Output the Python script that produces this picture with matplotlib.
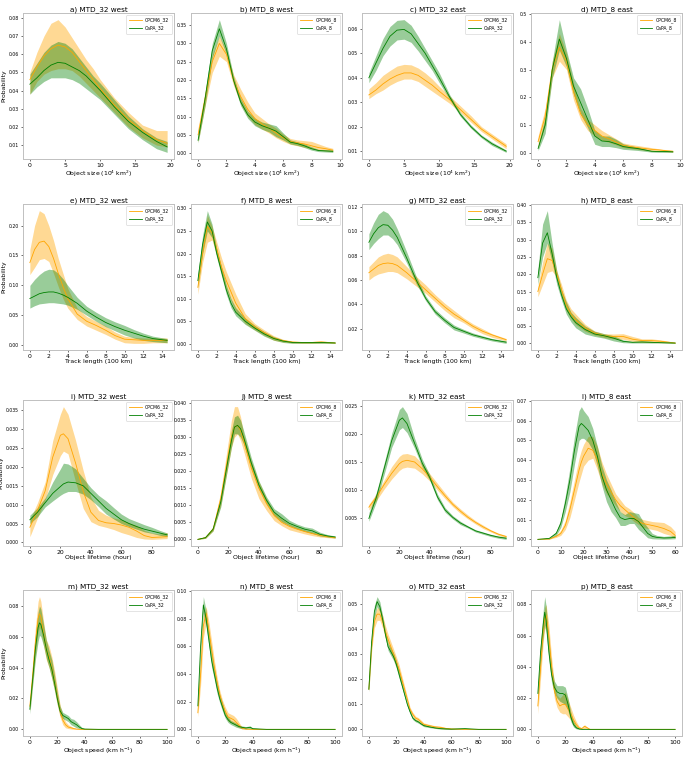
import numpy as np
import matplotlib
matplotlib.use("Agg")
import matplotlib.pyplot as plt

# ---- row 1: object size ----
a_x = [0, 1, 2, 3, 4, 5, 6, 7, 8, 9, 10, 12, 14, 16, 18, 19.5]
a_cp = [0.046, 0.053, 0.059, 0.063, 0.065, 0.064, 0.061, 0.056, 0.051, 0.046, 0.041, 0.032, 0.024, 0.018, 0.013, 0.011]
a_cp_hi = [0.050, 0.061, 0.070, 0.077, 0.079, 0.075, 0.069, 0.063, 0.057, 0.052, 0.046, 0.036, 0.028, 0.021, 0.018, 0.018]
a_cp_lo = [0.038, 0.045, 0.049, 0.051, 0.052, 0.052, 0.051, 0.048, 0.044, 0.040, 0.036, 0.028, 0.020, 0.014, 0.010, 0.009]
a_ca = [0.0435, 0.047, 0.051, 0.054, 0.0555, 0.055, 0.053, 0.051, 0.048, 0.044, 0.040, 0.031, 0.023, 0.017, 0.012, 0.009]
a_ca_hi = [0.049, 0.055, 0.061, 0.065, 0.067, 0.066, 0.063, 0.058, 0.053, 0.048, 0.044, 0.035, 0.026, 0.019, 0.014, 0.012]
a_ca_lo = [0.038, 0.042, 0.045, 0.047, 0.047, 0.047, 0.046, 0.044, 0.041, 0.038, 0.035, 0.027, 0.019, 0.013, 0.008, 0.006]

b_x = [0, 0.5, 1, 1.5, 2, 2.5, 3, 3.5, 4, 4.5, 5, 5.5, 6, 6.5, 7, 7.5, 8, 8.5, 9, 9.5]
b_cp = [0.05, 0.15, 0.25, 0.30, 0.27, 0.20, 0.155, 0.12, 0.095, 0.08, 0.068, 0.055, 0.042, 0.032, 0.028, 0.025, 0.02, 0.015, 0.012, 0.008]
b_cp_hi = [0.07, 0.17, 0.27, 0.32, 0.28, 0.215, 0.175, 0.14, 0.11, 0.095, 0.08, 0.068, 0.052, 0.04, 0.036, 0.034, 0.032, 0.025, 0.018, 0.013]
b_cp_lo = [0.03, 0.13, 0.22, 0.265, 0.25, 0.185, 0.135, 0.10, 0.078, 0.066, 0.055, 0.042, 0.032, 0.024, 0.02, 0.016, 0.012, 0.008, 0.006, 0.004]
b_ca = [0.035, 0.15, 0.28, 0.34, 0.285, 0.20, 0.14, 0.105, 0.085, 0.075, 0.068, 0.06, 0.045, 0.03, 0.026, 0.02, 0.012, 0.007, 0.006, 0.005]
b_ca_hi = [0.045, 0.17, 0.30, 0.365, 0.30, 0.21, 0.15, 0.115, 0.095, 0.085, 0.08, 0.075, 0.055, 0.036, 0.031, 0.025, 0.017, 0.01, 0.009, 0.008]
b_ca_lo = [0.028, 0.13, 0.26, 0.32, 0.27, 0.19, 0.13, 0.095, 0.075, 0.065, 0.058, 0.045, 0.036, 0.025, 0.021, 0.015, 0.008, 0.004, 0.003, 0.002]

c_x = [0, 1, 2, 3, 4, 5, 6, 7, 8, 9, 10, 11.5, 13, 14.5, 16, 17.5, 19.5]
c_cp = [0.033, 0.035, 0.0375, 0.0395, 0.041, 0.042, 0.042, 0.041, 0.039, 0.037, 0.0345, 0.031, 0.027, 0.023, 0.019, 0.016, 0.012]
c_cp_hi = [0.0355, 0.038, 0.041, 0.043, 0.0448, 0.0455, 0.0453, 0.044, 0.042, 0.0395, 0.0365, 0.0325, 0.0285, 0.0245, 0.020, 0.017, 0.013]
c_cp_lo = [0.0315, 0.0335, 0.035, 0.037, 0.0385, 0.0395, 0.0395, 0.0385, 0.0365, 0.0345, 0.0325, 0.0295, 0.0258, 0.0218, 0.018, 0.015, 0.011]
c_ca = [0.040, 0.046, 0.052, 0.057, 0.0595, 0.0598, 0.058, 0.054, 0.050, 0.045, 0.040, 0.032, 0.025, 0.020, 0.016, 0.013, 0.010]
c_ca_hi = [0.042, 0.049, 0.056, 0.061, 0.0635, 0.0638, 0.0615, 0.057, 0.052, 0.047, 0.042, 0.033, 0.0258, 0.0207, 0.0166, 0.0137, 0.0105]
c_ca_lo = [0.038, 0.043, 0.049, 0.053, 0.0555, 0.0558, 0.0545, 0.051, 0.047, 0.043, 0.038, 0.031, 0.0242, 0.0193, 0.0154, 0.0123, 0.0095]

d_x = [0, 0.5, 1, 1.5, 2, 2.5, 3, 3.5, 4, 4.5, 5, 5.5, 6, 6.5, 7, 7.5, 8, 8.5, 9, 9.5]
d_cp = [0.04, 0.13, 0.30, 0.38, 0.33, 0.22, 0.14, 0.10, 0.08, 0.06, 0.05, 0.038, 0.026, 0.022, 0.018, 0.015, 0.012, 0.01, 0.007, 0.005]
d_cp_hi = [0.06, 0.16, 0.33, 0.43, 0.36, 0.25, 0.16, 0.12, 0.10, 0.08, 0.065, 0.05, 0.035, 0.03, 0.026, 0.022, 0.018, 0.014, 0.011, 0.008]
d_cp_lo = [0.02, 0.10, 0.27, 0.33, 0.30, 0.19, 0.12, 0.08, 0.06, 0.045, 0.037, 0.028, 0.018, 0.015, 0.012, 0.009, 0.006, 0.005, 0.003, 0.002]
d_ca = [0.015, 0.10, 0.30, 0.41, 0.34, 0.24, 0.18, 0.12, 0.06, 0.042, 0.04, 0.032, 0.022, 0.018, 0.015, 0.01, 0.005, 0.004, 0.004, 0.003]
d_ca_hi = [0.025, 0.13, 0.33, 0.48, 0.37, 0.27, 0.23, 0.16, 0.08, 0.06, 0.06, 0.048, 0.032, 0.025, 0.02, 0.014, 0.008, 0.007, 0.008, 0.006]
d_ca_lo = [0.008, 0.07, 0.27, 0.37, 0.31, 0.21, 0.14, 0.09, 0.03, 0.022, 0.022, 0.018, 0.012, 0.01, 0.008, 0.005, 0.002, 0.001, 0.001, 0.001]

# ---- row 2: track length ----
e_x = [0, 0.5, 1, 1.5, 2, 2.5, 3, 3.5, 4, 5, 6, 7, 8, 9, 10, 11, 12, 13, 14.5]
e_cp = [0.138, 0.16, 0.172, 0.174, 0.165, 0.145, 0.12, 0.098, 0.078, 0.052, 0.04, 0.033, 0.025, 0.016, 0.010, 0.009, 0.008, 0.008, 0.008]
e_cp_hi = [0.16, 0.20, 0.225, 0.22, 0.20, 0.175, 0.145, 0.12, 0.095, 0.062, 0.048, 0.04, 0.032, 0.022, 0.015, 0.013, 0.012, 0.012, 0.012]
e_cp_lo = [0.118, 0.13, 0.143, 0.145, 0.14, 0.12, 0.098, 0.078, 0.062, 0.043, 0.032, 0.025, 0.018, 0.01, 0.004, 0.003, 0.003, 0.004, 0.004]
e_ca = [0.078, 0.082, 0.086, 0.088, 0.089, 0.089, 0.087, 0.084, 0.08, 0.07, 0.057, 0.047, 0.038, 0.031, 0.025, 0.02, 0.015, 0.011, 0.008]
e_ca_hi = [0.10, 0.11, 0.118, 0.124, 0.127, 0.126, 0.12, 0.111, 0.10, 0.08, 0.065, 0.055, 0.046, 0.039, 0.033, 0.026, 0.02, 0.015, 0.011]
e_ca_lo = [0.062, 0.066, 0.069, 0.07, 0.071, 0.071, 0.07, 0.069, 0.067, 0.06, 0.05, 0.04, 0.031, 0.024, 0.017, 0.012, 0.008, 0.006, 0.004]

f_x = [0, 0.5, 1, 1.5, 2, 2.5, 3, 3.5, 4, 5, 6, 7, 8, 9, 10, 11, 12, 13, 14.5]
f_cp = [0.125, 0.20, 0.26, 0.245, 0.21, 0.17, 0.14, 0.115, 0.09, 0.056, 0.038, 0.025, 0.013, 0.007, 0.004, 0.003, 0.003, 0.004, 0.002]
f_cp_hi = [0.14, 0.22, 0.285, 0.26, 0.225, 0.19, 0.16, 0.135, 0.11, 0.067, 0.045, 0.031, 0.018, 0.01, 0.006, 0.005, 0.005, 0.007, 0.003]
f_cp_lo = [0.11, 0.18, 0.225, 0.23, 0.195, 0.155, 0.122, 0.096, 0.072, 0.045, 0.031, 0.019, 0.008, 0.004, 0.002, 0.001, 0.001, 0.002, 0.001]
f_ca = [0.14, 0.22, 0.27, 0.25, 0.20, 0.16, 0.12, 0.09, 0.07, 0.05, 0.035, 0.022, 0.012, 0.006, 0.003, 0.003, 0.003, 0.003, 0.002]
f_ca_hi = [0.155, 0.24, 0.295, 0.265, 0.21, 0.17, 0.13, 0.10, 0.08, 0.057, 0.041, 0.027, 0.016, 0.009, 0.005, 0.004, 0.005, 0.005, 0.003]
f_ca_lo = [0.125, 0.20, 0.25, 0.235, 0.19, 0.15, 0.11, 0.08, 0.062, 0.043, 0.03, 0.017, 0.008, 0.003, 0.001, 0.001, 0.001, 0.001, 0.001]

g_x = [0, 0.5, 1, 1.5, 2, 2.5, 3, 4, 5, 6, 7, 8, 9, 10, 11, 12, 13, 14.5]
g_cp = [0.066, 0.069, 0.072, 0.0735, 0.074, 0.0735, 0.072, 0.066, 0.059, 0.052, 0.045, 0.038, 0.032, 0.027, 0.022, 0.018, 0.015, 0.011]
g_cp_hi = [0.071, 0.075, 0.079, 0.081, 0.082, 0.081, 0.079, 0.071, 0.063, 0.056, 0.048, 0.041, 0.035, 0.029, 0.024, 0.02, 0.016, 0.012]
g_cp_lo = [0.060, 0.063, 0.065, 0.066, 0.067, 0.067, 0.066, 0.061, 0.055, 0.049, 0.042, 0.035, 0.029, 0.025, 0.02, 0.016, 0.013, 0.010]
g_ca = [0.091, 0.098, 0.103, 0.1055, 0.105, 0.101, 0.095, 0.078, 0.06, 0.045, 0.034, 0.027, 0.021, 0.018, 0.015, 0.013, 0.011, 0.009]
g_ca_hi = [0.098, 0.107, 0.114, 0.117, 0.115, 0.11, 0.102, 0.083, 0.063, 0.047, 0.036, 0.029, 0.023, 0.0195, 0.0165, 0.0142, 0.012, 0.010]
g_ca_lo = [0.085, 0.09, 0.094, 0.097, 0.097, 0.094, 0.089, 0.074, 0.057, 0.043, 0.032, 0.025, 0.019, 0.0165, 0.0138, 0.0118, 0.010, 0.008]

h_x = [0, 0.5, 1, 1.5, 2, 2.5, 3, 3.5, 4, 5, 6, 7, 8, 9, 10, 11, 12, 13, 14.5]
h_cp = [0.15, 0.20, 0.245, 0.24, 0.20, 0.155, 0.11, 0.085, 0.068, 0.045, 0.03, 0.022, 0.02, 0.02, 0.012, 0.008, 0.008, 0.006, 0.001]
h_cp_hi = [0.165, 0.235, 0.29, 0.275, 0.21, 0.17, 0.125, 0.1, 0.085, 0.055, 0.036, 0.028, 0.027, 0.028, 0.02, 0.013, 0.013, 0.01, 0.003]
h_cp_lo = [0.135, 0.17, 0.205, 0.21, 0.19, 0.14, 0.095, 0.072, 0.055, 0.035, 0.024, 0.017, 0.013, 0.012, 0.006, 0.003, 0.002, 0.002, 0.0]
h_ca = [0.19, 0.29, 0.32, 0.26, 0.19, 0.14, 0.10, 0.077, 0.06, 0.04, 0.027, 0.022, 0.015, 0.006, 0.003, 0.004, 0.003, 0.002, 0.001]
h_ca_hi = [0.215, 0.345, 0.384, 0.29, 0.21, 0.155, 0.12, 0.09, 0.075, 0.05, 0.035, 0.028, 0.022, 0.01, 0.006, 0.007, 0.006, 0.004, 0.002]
h_ca_lo = [0.17, 0.25, 0.29, 0.235, 0.17, 0.125, 0.085, 0.062, 0.045, 0.027, 0.02, 0.015, 0.007, 0.002, 0.001, 0.001, 0.001, 0.001, 0.0]

# ---- row 3: object lifetime ----
i_x = [0, 5, 10, 15, 20, 22, 25, 30, 35, 40, 45, 50, 55, 60, 65, 70, 75, 80, 85, 90]
i_cp = [0.004, 0.0085, 0.0136, 0.0226, 0.0284, 0.0288, 0.0275, 0.021, 0.0135, 0.008, 0.0058, 0.0052, 0.005, 0.0046, 0.004, 0.003, 0.0018, 0.0013, 0.0014, 0.0015]
i_cp_hi = [0.006, 0.0105, 0.016, 0.027, 0.034, 0.036, 0.034, 0.027, 0.019, 0.012, 0.0085, 0.0072, 0.0065, 0.006, 0.0052, 0.0045, 0.0032, 0.0025, 0.0022, 0.0026]
i_cp_lo = [0.0015, 0.0065, 0.0112, 0.018, 0.023, 0.0242, 0.0235, 0.016, 0.009, 0.0055, 0.0045, 0.004, 0.0034, 0.0026, 0.002, 0.0013, 0.0009, 0.0008, 0.0009, 0.001]
i_ca = [0.006, 0.008, 0.0105, 0.013, 0.0148, 0.0155, 0.016, 0.0158, 0.015, 0.013, 0.011, 0.009, 0.0075, 0.006, 0.005, 0.0042, 0.0035, 0.003, 0.0025, 0.002]
i_ca_hi = [0.0072, 0.0092, 0.0118, 0.016, 0.0195, 0.021, 0.0208, 0.0195, 0.017, 0.0145, 0.0125, 0.011, 0.0092, 0.0075, 0.0063, 0.0055, 0.0047, 0.004, 0.0032, 0.0025]
i_ca_lo = [0.005, 0.0068, 0.0094, 0.011, 0.0125, 0.013, 0.0135, 0.0135, 0.0128, 0.0113, 0.0095, 0.0075, 0.0062, 0.005, 0.0042, 0.0035, 0.0028, 0.0024, 0.0019, 0.0015]

j_x = [0, 5, 10, 15, 20, 22, 24, 26, 28, 30, 35, 40, 45, 50, 55, 60, 65, 70, 75, 80, 85, 90]
j_cp = [0.0, 0.0005, 0.003, 0.012, 0.025, 0.030, 0.033, 0.0335, 0.032, 0.029, 0.021, 0.015, 0.0105, 0.007, 0.005, 0.0038, 0.003, 0.0023, 0.0017, 0.0012, 0.0008, 0.0005]
j_cp_hi = [0.0002, 0.0008, 0.0038, 0.014, 0.029, 0.035, 0.039, 0.039, 0.036, 0.031, 0.023, 0.017, 0.012, 0.008, 0.006, 0.0045, 0.0036, 0.0028, 0.0022, 0.0016, 0.0011, 0.0007]
j_cp_lo = [0.0, 0.0003, 0.0025, 0.01, 0.022, 0.027, 0.03, 0.031, 0.029, 0.026, 0.018, 0.012, 0.0085, 0.0055, 0.004, 0.0028, 0.0022, 0.0016, 0.0011, 0.0007, 0.0005, 0.0003]
j_ca = [0.0, 0.0005, 0.003, 0.011, 0.024, 0.029, 0.033, 0.0335, 0.0325, 0.03, 0.0225, 0.016, 0.0115, 0.008, 0.0062, 0.0047, 0.0038, 0.003, 0.0025, 0.0015, 0.001, 0.0007]
j_ca_hi = [0.0002, 0.0008, 0.0036, 0.0125, 0.026, 0.032, 0.036, 0.0365, 0.035, 0.032, 0.024, 0.0172, 0.0125, 0.009, 0.0075, 0.0056, 0.0045, 0.0037, 0.0033, 0.0021, 0.0014, 0.001]
j_ca_lo = [0.0, 0.0003, 0.0025, 0.0095, 0.022, 0.027, 0.031, 0.031, 0.030, 0.028, 0.021, 0.0148, 0.0105, 0.007, 0.0052, 0.004, 0.0031, 0.0024, 0.0018, 0.001, 0.0007, 0.0004]

k_x = [0, 5, 10, 15, 20, 22, 25, 30, 35, 40, 45, 50, 55, 60, 65, 70, 75, 80, 85, 90]
k_cp = [0.007, 0.0088, 0.011, 0.013, 0.0147, 0.0151, 0.0153, 0.015, 0.0138, 0.0123, 0.0106, 0.009, 0.0075, 0.0063, 0.0052, 0.0043, 0.0035, 0.0028, 0.0022, 0.0018]
k_cp_hi = [0.0075, 0.0094, 0.0118, 0.0142, 0.016, 0.0164, 0.0165, 0.0161, 0.0147, 0.0129, 0.0112, 0.0095, 0.0079, 0.0067, 0.0056, 0.0046, 0.0038, 0.003, 0.0024, 0.002]
k_cp_lo = [0.0065, 0.0082, 0.0102, 0.012, 0.0135, 0.0139, 0.0141, 0.0139, 0.0129, 0.0116, 0.01, 0.0085, 0.0071, 0.0059, 0.0049, 0.004, 0.0032, 0.0026, 0.002, 0.0016]
k_ca = [0.005, 0.0088, 0.0138, 0.0188, 0.0224, 0.0228, 0.0218, 0.0183, 0.0148, 0.0122, 0.0088, 0.0065, 0.0052, 0.0042, 0.0035, 0.0028, 0.0024, 0.002, 0.0017, 0.0015]
k_ca_hi = [0.006, 0.0097, 0.0148, 0.0201, 0.0243, 0.0248, 0.0236, 0.0192, 0.0155, 0.0127, 0.0093, 0.0069, 0.0055, 0.0045, 0.0037, 0.003, 0.0026, 0.0022, 0.0019, 0.0017]
k_ca_lo = [0.0045, 0.008, 0.0128, 0.0176, 0.0207, 0.0211, 0.0202, 0.0174, 0.0141, 0.0117, 0.0083, 0.0061, 0.0049, 0.0039, 0.0033, 0.0026, 0.0022, 0.0018, 0.0015, 0.0013]

l_x = [0, 5, 8, 10, 12, 14, 16, 18, 19, 20, 22, 24, 26, 28, 30, 32, 34, 36, 38, 40, 42, 44, 46, 48, 50, 52, 55, 58, 60]
l_cp = [0, 0.0002, 0.0015, 0.003, 0.007, 0.015, 0.025, 0.035, 0.039, 0.042, 0.046, 0.045, 0.040, 0.033, 0.028, 0.024, 0.020, 0.017, 0.015, 0.013, 0.011, 0.009, 0.008, 0.0075, 0.007, 0.0065, 0.0055, 0.004, 0.002]
l_cp_hi = [0, 0.0004, 0.0022, 0.0045, 0.0095, 0.019, 0.03, 0.041, 0.045, 0.048, 0.052, 0.052, 0.047, 0.039, 0.033, 0.028, 0.023, 0.020, 0.017, 0.0155, 0.0135, 0.011, 0.010, 0.0095, 0.009, 0.0088, 0.0085, 0.0065, 0.004]
l_cp_lo = [0, 0.0001, 0.001, 0.002, 0.005, 0.011, 0.02, 0.029, 0.033, 0.037, 0.04, 0.041, 0.035, 0.028, 0.023, 0.02, 0.017, 0.014, 0.012, 0.011, 0.009, 0.0075, 0.006, 0.0055, 0.005, 0.0045, 0.003, 0.002, 0.0005]
l_ca = [0, 0.0005, 0.003, 0.008, 0.018, 0.030, 0.045, 0.057, 0.0585, 0.0575, 0.055, 0.050, 0.042, 0.032, 0.025, 0.020, 0.015, 0.011, 0.010, 0.0105, 0.0105, 0.009, 0.006, 0.003, 0.0015, 0.001, 0.0007, 0.0008, 0.001]
l_ca_hi = [0, 0.0008, 0.004, 0.010, 0.022, 0.036, 0.052, 0.065, 0.067, 0.065, 0.062, 0.056, 0.047, 0.037, 0.030, 0.025, 0.019, 0.014, 0.0125, 0.014, 0.0135, 0.013, 0.009, 0.006, 0.003, 0.002, 0.0015, 0.0018, 0.002]
l_ca_lo = [0, 0.0002, 0.002, 0.006, 0.014, 0.024, 0.038, 0.050, 0.051, 0.051, 0.049, 0.045, 0.037, 0.027, 0.019, 0.014, 0.011, 0.007, 0.007, 0.008, 0.008, 0.005, 0.003, 0.0008, 0.0003, 0.0002, 0.0001, 0.0002, 0.0003]

# ---- row 4: object speed ----
m_x = [0, 2, 4, 6, 7, 8, 10, 12, 14, 16, 18, 20, 22, 24, 26, 28, 30, 32, 34, 36, 38, 40, 50, 60, 70, 80, 90, 100]
m_cp = [0.015, 0.035, 0.056, 0.072, 0.075, 0.073, 0.062, 0.052, 0.047, 0.04, 0.031, 0.021, 0.012, 0.006, 0.003, 0.0015, 0.001, 0.0005, 0.0002, 0, 0, 0, 0, 0, 0, 0, 0, 0]
m_cp_hi = [0.018, 0.042, 0.066, 0.083, 0.086, 0.083, 0.07, 0.058, 0.054, 0.047, 0.038, 0.027, 0.016, 0.009, 0.005, 0.003, 0.002, 0.001, 0.0005, 0.0002, 0, 0, 0, 0, 0, 0, 0, 0]
m_cp_lo = [0.012, 0.03, 0.048, 0.063, 0.066, 0.064, 0.054, 0.045, 0.04, 0.033, 0.025, 0.016, 0.008, 0.003, 0.001, 0.0005, 0.0002, 0, 0, 0, 0, 0, 0, 0, 0, 0, 0, 0]
m_ca = [0.013, 0.032, 0.052, 0.066, 0.069, 0.068, 0.061, 0.052, 0.045, 0.039, 0.03, 0.02, 0.012, 0.009, 0.008, 0.007, 0.005, 0.004, 0.003, 0.0015, 0.0005, 0.0002, 0, 0, 0, 0, 0, 0]
m_ca_hi = [0.016, 0.037, 0.06, 0.076, 0.080, 0.078, 0.068, 0.058, 0.051, 0.045, 0.035, 0.024, 0.015, 0.011, 0.01, 0.009, 0.007, 0.0065, 0.005, 0.003, 0.0012, 0.0005, 0.0002, 0.0002, 0.0002, 0.0002, 0.0002, 0.0002]
m_ca_lo = [0.01, 0.028, 0.045, 0.057, 0.061, 0.06, 0.054, 0.046, 0.04, 0.033, 0.025, 0.016, 0.009, 0.007, 0.006, 0.005, 0.003, 0.002, 0.001, 0.0005, 0, 0, 0, 0, 0, 0, 0, 0]

n_x = [0, 2, 4, 6, 8, 10, 12, 14, 16, 18, 20, 22, 24, 26, 28, 30, 32, 35, 38, 40, 50, 60, 70, 80, 90, 100]
n_cp = [0.012, 0.04, 0.075, 0.084, 0.072, 0.058, 0.045, 0.034, 0.025, 0.018, 0.013, 0.009, 0.008, 0.007, 0.005, 0.003, 0.001, 0.0003, 0, 0, 0, 0, 0, 0, 0, 0]
n_cp_hi = [0.015, 0.05, 0.082, 0.089, 0.078, 0.064, 0.05, 0.038, 0.028, 0.021, 0.016, 0.012, 0.011, 0.01, 0.008, 0.005, 0.002, 0.0006, 0, 0, 0, 0, 0, 0, 0, 0]
n_cp_lo = [0.009, 0.032, 0.066, 0.077, 0.066, 0.052, 0.04, 0.03, 0.022, 0.015, 0.01, 0.006, 0.005, 0.004, 0.0025, 0.0012, 0.0003, 0, 0, 0, 0, 0, 0, 0, 0, 0]
n_ca = [0.017, 0.06, 0.09, 0.08, 0.065, 0.05, 0.04, 0.03, 0.022, 0.016, 0.01, 0.007, 0.005, 0.004, 0.003, 0.002, 0.0015, 0.001, 0.0015, 0.0005, 0, 0, 0, 0, 0, 0]
n_ca_hi = [0.02, 0.066, 0.096, 0.086, 0.07, 0.055, 0.044, 0.034, 0.025, 0.019, 0.012, 0.009, 0.0065, 0.0055, 0.0045, 0.003, 0.0025, 0.002, 0.0025, 0.001, 0.0002, 0.0002, 0.0002, 0.0002, 0.0002, 0.0002]
n_ca_lo = [0.014, 0.054, 0.084, 0.074, 0.06, 0.045, 0.036, 0.026, 0.019, 0.013, 0.008, 0.005, 0.0035, 0.0025, 0.0015, 0.001, 0.0005, 0.0003, 0.0005, 0, 0, 0, 0, 0, 0, 0]

o_x = [0, 2, 4, 6, 8, 10, 12, 14, 16, 18, 20, 22, 24, 26, 28, 30, 32, 34, 36, 38, 40, 44, 48, 52, 56, 60, 70, 80, 90, 100]
o_cp = [0.016, 0.033, 0.043, 0.046, 0.046, 0.043, 0.039, 0.036, 0.033, 0.030, 0.027, 0.024, 0.020, 0.016, 0.012, 0.008, 0.006, 0.0045, 0.004, 0.003, 0.002, 0.0015, 0.001, 0.0008, 0.0004, 0.0002, 0, 0, 0, 0]
o_cp_hi = [0.017, 0.035, 0.0455, 0.0485, 0.0485, 0.0455, 0.0415, 0.038, 0.035, 0.032, 0.029, 0.0258, 0.0215, 0.0173, 0.013, 0.0088, 0.0068, 0.0053, 0.0047, 0.0037, 0.0026, 0.002, 0.0015, 0.0013, 0.0007, 0.0004, 0.0001, 0, 0, 0]
o_cp_lo = [0.015, 0.031, 0.0405, 0.0435, 0.0435, 0.0405, 0.0365, 0.034, 0.031, 0.028, 0.025, 0.0222, 0.0185, 0.0147, 0.011, 0.0072, 0.0052, 0.0037, 0.0033, 0.0023, 0.0014, 0.001, 0.0005, 0.0003, 0.0001, 0, 0, 0, 0, 0]
o_ca = [0.016, 0.035, 0.047, 0.051, 0.049, 0.044, 0.038, 0.033, 0.031, 0.029, 0.026, 0.022, 0.018, 0.014, 0.010, 0.007, 0.0045, 0.0035, 0.003, 0.0022, 0.0015, 0.001, 0.0006, 0.0003, 0.0002, 0.0001, 0.0003, 0, 0, 0]
o_ca_hi = [0.017, 0.037, 0.0495, 0.053, 0.051, 0.0455, 0.0395, 0.0345, 0.0325, 0.0305, 0.0275, 0.0235, 0.0192, 0.015, 0.0108, 0.0077, 0.0051, 0.004, 0.0035, 0.0026, 0.0019, 0.0013, 0.0008, 0.0005, 0.0004, 0.0003, 0.0005, 0.0001, 0, 0]
o_ca_lo = [0.015, 0.033, 0.0445, 0.049, 0.047, 0.0425, 0.0365, 0.0315, 0.0295, 0.0275, 0.0245, 0.0205, 0.0168, 0.013, 0.0092, 0.0063, 0.0039, 0.003, 0.0025, 0.0018, 0.0011, 0.0007, 0.0004, 0.0001, 0, 0, 0.0001, 0, 0, 0]

p_x = [0, 2, 4, 5, 6, 8, 10, 12, 14, 16, 18, 20, 22, 24, 26, 28, 30, 32, 34, 36, 38, 40, 50, 60, 70, 80, 90, 100]
p_cp = [0.015, 0.04, 0.065, 0.071, 0.073, 0.06, 0.04, 0.025, 0.018, 0.015, 0.016, 0.016, 0.013, 0.010, 0.006, 0.003, 0.001, 0.0005, 0.002, 0.001, 0, 0, 0, 0, 0, 0, 0, 0]
p_cp_hi = [0.022, 0.047, 0.072, 0.078, 0.08, 0.067, 0.046, 0.03, 0.022, 0.02, 0.022, 0.024, 0.019, 0.014, 0.009, 0.005, 0.002, 0.001, 0.003, 0.0015, 0.0002, 0, 0, 0, 0, 0, 0, 0]
p_cp_lo = [0.01, 0.033, 0.057, 0.064, 0.066, 0.053, 0.034, 0.02, 0.014, 0.011, 0.01, 0.01, 0.008, 0.006, 0.003, 0.001, 0.0003, 0, 0.0005, 0.0002, 0, 0, 0, 0, 0, 0, 0, 0]
p_ca = [0.023, 0.05, 0.068, 0.075, 0.07, 0.05, 0.035, 0.027, 0.024, 0.023, 0.023, 0.022, 0.016, 0.008, 0.003, 0.001, 0.0003, 0, 0, 0, 0, 0, 0, 0, 0, 0, 0, 0]
p_ca_hi = [0.027, 0.056, 0.077, 0.085, 0.079, 0.057, 0.04, 0.031, 0.028, 0.028, 0.028, 0.027, 0.02, 0.011, 0.005, 0.002, 0.0006, 0.0002, 0.0002, 0.0002, 0.0002, 0.0002, 0.0002, 0.0002, 0.0002, 0.0002, 0.0002, 0.0002]
p_ca_lo = [0.019, 0.044, 0.06, 0.067, 0.062, 0.044, 0.03, 0.023, 0.02, 0.018, 0.017, 0.016, 0.012, 0.005, 0.0015, 0.0003, 0, 0, 0, 0, 0, 0, 0, 0, 0, 0, 0, 0]

titles = ["a) MTD_32 west", "b) MTD_8 west", "c) MTD_32 east", "d) MTD_8 east",
          "e) MTD_32 west", "f) MTD_8 west", "g) MTD_32 east", "h) MTD_8 east",
          "i) MTD_32 west", "j) MTD_8 west", "k) MTD_32 east", "l) MTD_8 east",
          "m) MTD_32 west", "n) MTD_8 west", "o) MTD_32 east", "p) MTD_8 east"]
xlabels = ["Object size (10$^4$ km$^2$)", "Track length (100 km)",
           "Object lifetime (hour)", "Object speed (km h$^{-1}$)"]

panels = [
    (a_x, a_cp, a_cp_lo, a_cp_hi, a_ca, a_ca_lo, a_ca_hi),
    (b_x, b_cp, b_cp_lo, b_cp_hi, b_ca, b_ca_lo, b_ca_hi),
    (c_x, c_cp, c_cp_lo, c_cp_hi, c_ca, c_ca_lo, c_ca_hi),
    (d_x, d_cp, d_cp_lo, d_cp_hi, d_ca, d_ca_lo, d_ca_hi),
    (e_x, e_cp, e_cp_lo, e_cp_hi, e_ca, e_ca_lo, e_ca_hi),
    (f_x, f_cp, f_cp_lo, f_cp_hi, f_ca, f_ca_lo, f_ca_hi),
    (g_x, g_cp, g_cp_lo, g_cp_hi, g_ca, g_ca_lo, g_ca_hi),
    (h_x, h_cp, h_cp_lo, h_cp_hi, h_ca, h_ca_lo, h_ca_hi),
    (i_x, i_cp, i_cp_lo, i_cp_hi, i_ca, i_ca_lo, i_ca_hi),
    (j_x, j_cp, j_cp_lo, j_cp_hi, j_ca, j_ca_lo, j_ca_hi),
    (k_x, k_cp, k_cp_lo, k_cp_hi, k_ca, k_ca_lo, k_ca_hi),
    (l_x, l_cp, l_cp_lo, l_cp_hi, l_ca, l_ca_lo, l_ca_hi),
    (m_x, m_cp, m_cp_lo, m_cp_hi, m_ca, m_ca_lo, m_ca_hi),
    (n_x, n_cp, n_cp_lo, n_cp_hi, n_ca, n_ca_lo, n_ca_hi),
    (o_x, o_cp, o_cp_lo, o_cp_hi, o_ca, o_ca_lo, o_ca_hi),
    (p_x, p_cp, p_cp_lo, p_cp_hi, p_ca, p_ca_lo, p_ca_hi),
]

W, H = 685, 757
fig = plt.figure(figsize=(W / 100, H / 100), dpi=100)

col_left = [23, 191, 362, 531]
row_top = [13, 204, 400, 590]
ax_w, ax_h = 151, 146

for idx, (x, cp, cp_lo, cp_hi, ca, ca_lo, ca_hi) in enumerate(panels):
    r, c = divmod(idx, 4)
    ax = fig.add_axes([col_left[c] / W, 1 - (row_top[r] + ax_h) / H, ax_w / W, ax_h / H])
    res = "32" if c % 2 == 0 else "8"

    ax.plot(x, cp, color="orange", lw=0.6, label="CPCM6_" + res)
    ax.fill_between(x, cp_lo, cp_hi, color="orange", alpha=0.42, lw=0)
    ax.plot(x, ca, color="green", lw=0.6, label="CaPA_" + res)
    ax.fill_between(x, ca_lo, ca_hi, color="green", alpha=0.4, lw=0)

    # the 8 km object-size panels run to 10 on the x axis
    if r == 0 and c % 2 == 1:
        ax.set_xlim(-0.5, 10.15)

    ax.set_title(titles[idx], fontsize=5.2, pad=1.5)
    ax.set_xlabel(xlabels[r], fontsize=4.4, labelpad=0.5)
    if c == 0:
        ax.set_ylabel("Probability", fontsize=4.4, labelpad=1.5)
    ax.tick_params(axis="x", labelsize=4.4, length=1.5, width=0.4, pad=1.2)
    ax.tick_params(axis="y", labelsize=3.3, length=1.5, width=0.4, pad=1.5)
    for sp in ax.spines.values():
        sp.set_color("#c0c0c0")
        sp.set_linewidth(0.7)
    leg = ax.legend(loc="upper right", fontsize=3.3, handlelength=2.8,
                    borderpad=0.5, labelspacing=0.5, framealpha=1)
    leg.get_frame().set_linewidth(0.4)
    leg.get_frame().set_edgecolor("#d0d0d0")

fig.savefig("out.png", dpi=100)
